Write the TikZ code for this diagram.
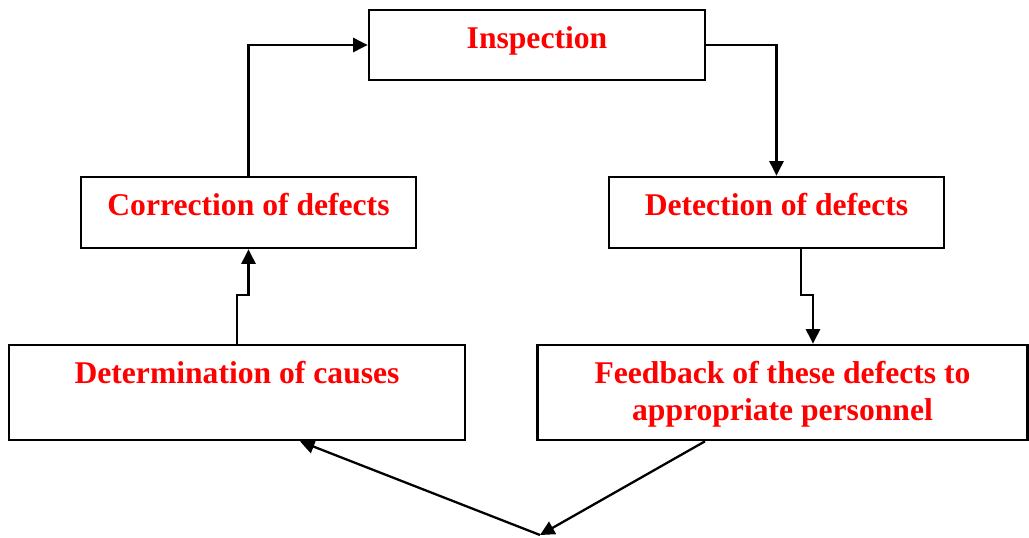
\documentclass[tikz,border=0pt]{standalone}
\usepackage{fontspec}
\setmainfont{Liberation Serif}
\usepackage{tikz}
\usetikzlibrary{arrows.meta,calc}
\newcommand{\clrtxt}{red}

\begin{document}
\begin{tikzpicture}[x={(0.02cm,0cm)}, y={(0cm,-0.02cm)},
    box/.style={draw, line width=1.5pt, inner sep=0pt, align=center, text=\clrtxt,
        font=\bfseries\fontsize{18}{21}\selectfont, text height=0.76cm},
    arr/.style={line width=1.3pt, -{Triangle[length=0.29cm, width=0.28cm]}}]
    \useasboundingbox (0,0) rectangle (1029,538);
    %boxes
        \node[box, minimum width=336*0.02cm, text depth=0.64cm] (insp) at (537,45) {Inspection};
        \node[box, minimum width=335*0.02cm, text depth=0.66cm] (corr) at (248.5,212.5) {Correction of defects};
        \node[box, minimum width=335*0.02cm, text depth=0.66cm] (dtct) at (776.5,212.5) {Detection of defects};
        \node[box, minimum width=456*0.02cm, text depth=1.14cm] (caus) at (237,392.5) {Determination of causes};
        \node[box, minimum width=490*0.02cm, text height=1.50cm, text depth=0.40cm] (fdbk) at (782.5,392.5) {Feedback of these defects to\\appropriate personnel};
    %bends and ends placed by hand
        \coordinate (j1) at (801,295);
        \coordinate (j2) at (813,295);
        \coordinate (k1) at (237,295);
        \coordinate (fo) at (705,440);
        \coordinate (v) at (540,535);
        \coordinate (ci) at (300,440);
    %connectors
        \draw[arr] (corr.north) |- (insp.west);
        \draw[arr] (insp.east) -| (dtct.north);
        \draw[arr] (dtct.south -| j1) -- (j1) -- (j2) -- (fdbk.north -| j2);
        \draw[arr] (caus.north) -- (k1) -- (corr.south |- k1) -- (corr.south);
        \draw[arr] (fdbk.south -| fo) -- (v);
        \draw[arr] (v) -- (caus.south -| ci);
\end{tikzpicture}
\end{document}
